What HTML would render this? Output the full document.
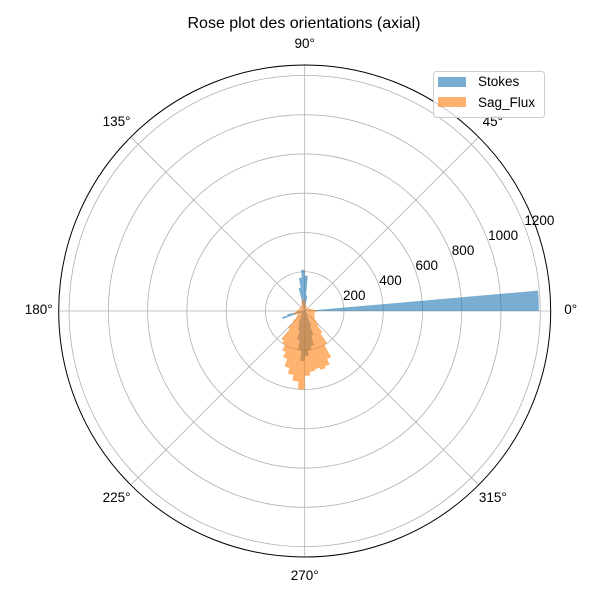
<!DOCTYPE html>
<html><head><meta charset="utf-8"><style>
body{margin:0;background:#fff}
svg{font-family:"Liberation Sans","DejaVu Sans",sans-serif}
</style></head><body>
<svg id="chart" width="600" height="600" viewBox="0 0 600 600">
<rect width="600" height="600" fill="#fff"/>
<text x="304" y="28" text-anchor="middle" font-size="16">Rose plot des orientations (axial)</text>
<g id="grid"></g>
<g id="bars"></g>
<circle cx="304.7" cy="311" r="246" fill="none" stroke="#000" stroke-width="1"/>
<g id="labels"></g>
<g>
<rect x="433.5" y="71.5" width="111" height="46" rx="3" fill="#fff" fill-opacity="0.8" stroke="#ccc"/>
<rect x="438" y="77" width="28" height="10" fill="#1f77b4" fill-opacity="0.6"/>
<text x="478" y="86" font-size="13.5">Stokes</text>
<rect x="438" y="97" width="28" height="10" fill="#ff7f0e" fill-opacity="0.6"/>
<text x="478" y="107" font-size="13.5">Sag_Flux</text>
</g>
</svg>
<script>
const binWidth = 5;
const binStarts = Array.from({length:72},(_,i)=>i*5);
const stokesValues = [1193,30,15,10,5,0,0,0,0,0,0,0,0,0,0,0,80,180,210,170,120,50,20,10,5,0,0,0,0,0,0,0,0,0,0,0,20,40,90,120,35,20,15,10,10,20,30,40,60,80,100,150,200,255,230,200,180,130,80,40,20,10,5,0,0,0,0,0,0,0,0,10];
const sagValues = [60,45,40,35,30,25,25,20,20,20,20,20,20,25,30,30,35,45,55,60,55,50,40,35,30,30,30,30,30,30,30,30,30,35,35,40,45,50,55,60,40,40,45,55,80,120,185,200,230,260,300,330,360,400,330,310,300,310,300,270,200,140,100,80,65,60,55,55,50,50,55,60];
const radialTicks = [200,400,600,800,1000,1200];
const angleTicks = [0,45,90,135,180,225,270,315];
const rMax = 1253;
const cx=304.7, cy=311, R=246;
const NS='http://www.w3.org/2000/svg';
function rScale(v){return v/rMax*R;}
function pt(deg,r){const a=deg*Math.PI/180;return [cx+r*Math.cos(a), cy-r*Math.sin(a)];}
const grid=document.getElementById('grid'), bars=document.getElementById('bars'), labels=document.getElementById('labels');
radialTicks.forEach(t=>{
  const c=document.createElementNS(NS,'circle');
  
  
  c.setAttribute('cx',cx);c.setAttribute('cy',cy);c.setAttribute('r',rScale(t));
  c.setAttribute('fill','none');c.setAttribute('stroke','#b0b0b0');c.setAttribute('stroke-width','0.8');
  grid.appendChild(c);
  const p=pt(22.5,rScale(t));
  const tx=document.createElementNS(NS,'text');
  
  
  tx.setAttribute('x',p[0]+2);tx.setAttribute('y',p[1]+4);tx.setAttribute('font-size','13.5');
  tx.textContent=t;labels.appendChild(tx);
});
angleTicks.forEach(d=>{
  const p=pt(d,R);
  const l=document.createElementNS(NS,'line');
  
  
  l.setAttribute('x1',cx);l.setAttribute('y1',cy);l.setAttribute('x2',p[0]);l.setAttribute('y2',p[1]);
  l.setAttribute('stroke','#b0b0b0');l.setAttribute('stroke-width','0.8');
  grid.appendChild(l);
  const q=pt(d,R+20);
  const tx=document.createElementNS(NS,'text');
  
  
  tx.setAttribute('x',q[0]);tx.setAttribute('y',q[1]+3);tx.setAttribute('font-size','13.5');tx.setAttribute('text-anchor','middle');
  tx.textContent=d+'°';labels.appendChild(tx);
});
function drawSeries(vals,color,name){
  vals.forEach((v,i)=>{
    if(v<=0)return;
    const a0=binStarts[i], a1=a0+binWidth, r=rScale(v);
    const p0=pt(a0,r), p1=pt(a1,r);
    const path=document.createElementNS(NS,'path');
    
    
    path.setAttribute('d',`M${cx},${cy}L${p0[0]},${p0[1]}A${r},${r} 0 0 0 ${p1[0]},${p1[1]}Z`);
    path.setAttribute('fill',color);path.setAttribute('fill-opacity','0.6');
    bars.appendChild(path);
  });
}
drawSeries(stokesValues,'#1f77b4','stokes-bar');
drawSeries(sagValues,'#ff7f0e','sagflux-bar');
</script>
</body></html>
